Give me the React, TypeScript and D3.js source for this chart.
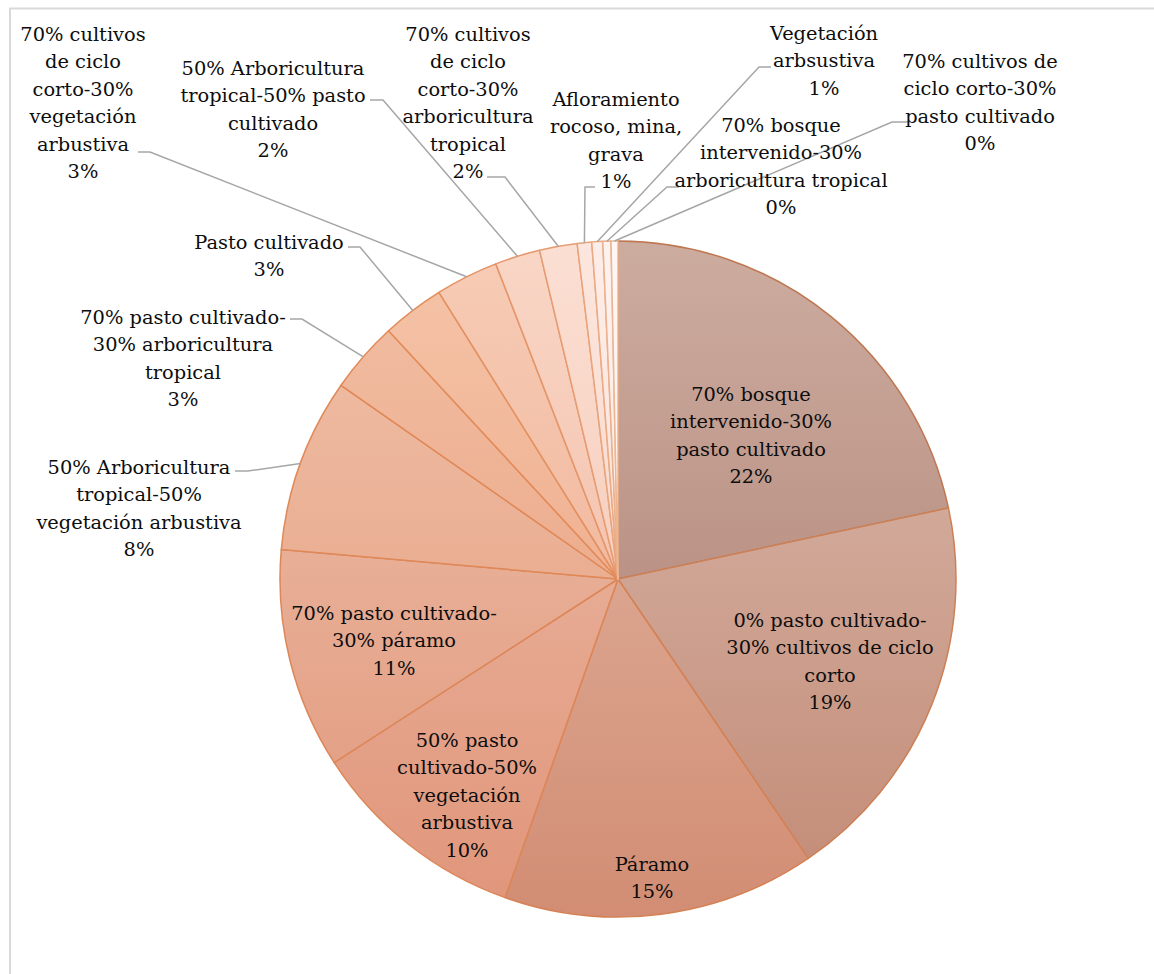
import React from "react";
import * as d3 from "d3";

const categories = [
  "70% bosque intervenido-30% pasto cultivado",
  "0% pasto cultivado-30% cultivos de ciclo corto",
  "Páramo",
  "50% pasto cultivado-50% vegetación arbustiva",
  "70% pasto cultivado-30% páramo",
  "50% Arboricultura tropical-50% vegetación arbustiva",
  "70% pasto cultivado-30% arboricultura tropical",
  "Pasto cultivado",
  "70% cultivos de ciclo corto-30% vegetación arbustiva",
  "50% Arboricultura tropical-50% pasto cultivado",
  "70% cultivos de ciclo corto-30% arboricultura tropical",
  "Afloramiento rocoso, mina, grava",
  "Vegetación arbsustiva",
  "70% bosque intervenido-30% arboricultura tropical",
  "70% cultivos de ciclo corto-30% pasto cultivado",
];

const values = [21.64, 18.86, 14.94, 10.44, 10.53, 8.33, 3.41, 2.99, 3.0, 2.16, 1.8, 0.69, 0.52, 0.39, 0.33];

const labelLines: string[][] = [
  ["70% bosque", "intervenido-30%", "pasto cultivado"],
  ["0% pasto cultivado-", "30% cultivos de ciclo", "corto"],
  ["Páramo"],
  ["50% pasto", "cultivado-50%", "vegetación", "arbustiva"],
  ["70% pasto cultivado-", "30% páramo"],
  ["50% Arboricultura", "tropical-50%", "vegetación arbustiva"],
  ["70% pasto cultivado-", "30% arboricultura", "tropical"],
  ["Pasto cultivado"],
  ["70% cultivos", "de ciclo", "corto-30%", "vegetación", "arbustiva"],
  ["50% Arboricultura", "tropical-50% pasto", "cultivado"],
  ["70% cultivos", "de ciclo", "corto-30%", "arboricultura", "tropical"],
  ["Afloramiento", "rocoso, mina,", "grava"],
  ["Vegetación", "arbsustiva"],
  ["70% bosque", "intervenido-30%", "arboricultura tropical"],
  ["70% cultivos de", "ciclo corto-30%", "pasto cultivado"],
];

const topColors = [
  "#cdaca0", "#dcbdb1", "#e4bca9", "#eec1ad", "#efc3ae", "#f0c2aa", "#f2c0a5", "#f5c4a8",
  "#f7ccb6", "#f9d6c6", "#fbdfd3", "#fce6de", "#fdede8", "#fdf2ef", "#fef7f5",
];
const bottomColors = [
  "#a97a6c", "#c28a75", "#d28d74", "#e0957a", "#e0977b", "#e49a7a", "#e89a78", "#eb9e7c",
  "#eca88a", "#efb29a", "#f2bfaa", "#f5cdbd", "#f7d8cc", "#f9e3db", "#fbece6",
];

type Lay = { x: number; y: number; stub?: [number, number, number] };
const layout: Lay[] = [
  { x: 751, y: 394 },
  { x: 830, y: 620 },
  { x: 652, y: 864 },
  { x: 467, y: 740 },
  { x: 394, y: 613 },
  { x: 139, y: 467, stub: [235, 248, 471] },
  { x: 183, y: 317, stub: [290, 302, 319] },
  { x: 269, y: 242, stub: [348, 360, 247] },
  { x: 83, y: 34, stub: [138, 150, 152] },
  { x: 273, y: 68, stub: [370, 383, 100] },
  { x: 468, y: 34, stub: [487, 505, 177] },
  { x: 616, y: 99, stub: [595, 585, 187] },
  { x: 824, y: 33, stub: [771, 759, 67] },
  { x: 781, y: 125, stub: [679, 667, 187] },
  { x: 980, y: 61, stub: [908, 892, 122] },
];

const W = 1154;
const H = 974;
const CX = 618;
const CY = 579;
const R = 338;
const LH = 27.5;
const FONT = "DejaVu Serif";

export default function App() {
  const total = d3.sum(values);
  const pie = d3.pie<number>().sort(null).value((d) => d).startAngle(0).endAngle(2 * Math.PI);
  const arcs = pie(values);
  const arc = d3.arc<d3.PieArcDatum<number>>().innerRadius(0).outerRadius(R);
  const edge = d3.arc<d3.PieArcDatum<number>>().innerRadius(R).outerRadius(R);

  return (
    <svg
      width={W}
      height={H}
      style={{ position: "absolute", left: 0, top: 0, background: "#fff" }}
    >
      <defs>
        {arcs.map((a, i) => (
          <linearGradient key={i} id={`g${i}`} gradientUnits="userSpaceOnUse" x1={0} y1={-R} x2={0} y2={R}>
            <stop offset="0" stopColor={topColors[i]} />
            <stop offset="1" stopColor={bottomColors[i]} />
          </linearGradient>
        ))}
      </defs>
      <rect x={0} y={0} width={W} height={H} fill="#fff" />
      <path d={`M10,${H + 5} V8.5 H${W + 5}`} fill="none" stroke="#d9d9d9" strokeWidth={2} />
      <g transform={`translate(${CX},${CY})`}>
        {arcs.map((a, i) => (
          <path
            key={i}
            d={arc(a) || ""}
            fill={`url(#g${i})`}
            stroke={d3.interpolateRgb(bottomColors[i], "#d9732f")(0.45)}
            strokeWidth={1.5}
            strokeLinejoin="round"
          />
        ))}
      </g>
      <g fill="none" stroke="#a6a6a6" strokeWidth={1.5}>
        {arcs.map((a, i) => {
          const L = layout[i];
          if (!L.stub) return null;
          const [ex, ey] = edge.centroid(a);
          const [x0, x1, y] = L.stub;
          return <path key={i} d={`M${x0},${y} H${x1} L${CX + ex},${CY + ey}`} />;
        })}
      </g>
      <g fontFamily={FONT} fontSize={19.4} fill="#0d0d0d" textAnchor="middle">
        {arcs.map((a, i) => {
          const L = layout[i];
          const lines = [...labelLines[i], `${Math.round((values[i] / total) * 100)}%`];
          return (
            <text key={i} x={L.x} y={L.y}>
              {lines.map((t, j) => (
                <tspan key={j} x={L.x} y={L.y + j * LH} dominantBaseline="central">
                  {t}
                </tspan>
              ))}
            </text>
          );
        })}
      </g>
    </svg>
  );
}
